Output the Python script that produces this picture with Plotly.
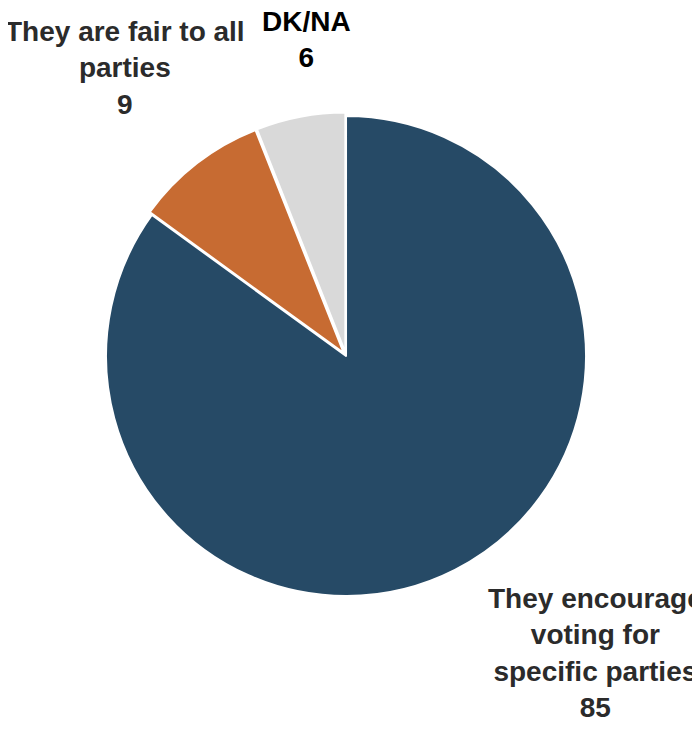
import plotly.graph_objects as go

categories = ["They encourage voting for specific parties", "They are fair to all parties", "DK/NA"]
values = [85, 9, 6]
label_text = ["They encourage<br>voting for<br>specific parties", "They are fair to all<br>parties", "DK/NA"]
colors = ["#264a66", "#c76b32", "#d9d9d9"]
pulls = [0, 0.015, 0.015]

fig = go.Figure(go.Pie(
    labels=categories, values=values, sort=False, direction="clockwise", rotation=0,
    marker=dict(colors=colors, line=dict(color="white", width=2)),
    pull=pulls, textinfo="none", hoverinfo="label+value", showlegend=False,
    domain=dict(x=[0.1349, 0.8309], y=[0.194, 0.8577]),
))

font_fam = "Liberation Sans, Arial, sans-serif"
ann_pos = [(587, 645, "#2b2b2b"), (117, 60, "#2b2b2b"), (298, 31, "#000000")]
for (x, y, col), txt, v in zip(ann_pos, label_text, values):
    fig.add_annotation(x=x / 700, y=1 - y / 734, xref="paper", yref="paper",
                       text=f"<b>{txt}<br>{v}</b>", showarrow=False,
                       xanchor="center", yanchor="middle", align="center",
                       font=dict(family=font_fam, size=28, color=col))

fig.update_layout(width=700, height=734, margin=dict(l=0, r=0, t=0, b=0),
                  paper_bgcolor="white", plot_bgcolor="white")
fig.write_html("out.html")
